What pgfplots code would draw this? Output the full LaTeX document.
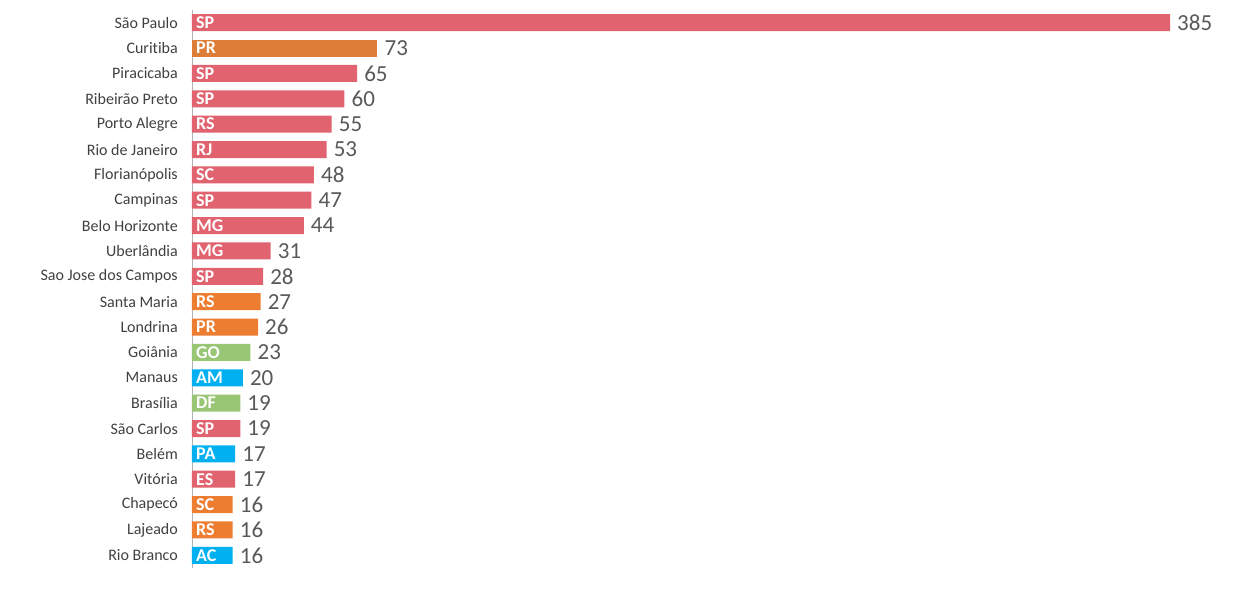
\documentclass[border=0pt]{standalone}
\usepackage{pgfplots}
\pgfplotsset{compat=1.18}
\usepackage{pgfplotstable}
\usepackage{fontspec}
\setmainfont{Carlito}[Ligatures=NoCommon]
\definecolor{cred}{HTML}{E0636F}
\definecolor{corgA}{HTML}{DD7D38}
\definecolor{corg}{HTML}{ED7D31}
\definecolor{cgreen}{HTML}{98C674}
\definecolor{cblue}{HTML}{00B0F0}
\definecolor{cval}{HTML}{595959}
\definecolor{ccat}{HTML}{404040}
\pgfplotstableread{
idx val st
0 385 SP
2 65 SP
3 60 SP
4 55 RS
5 53 RJ
6 48 SC
7 47 SP
8 44 MG
9 31 MG
10 28 SP
16 19 SP
18 17 ES
}\tred
\pgfplotstableread{
idx val st
1 73 PR
}\torgA
\pgfplotstableread{
idx val st
11 27 RS
12 26 PR
19 16 SC
20 16 RS
}\torg
\pgfplotstableread{
idx val st
13 23 GO
15 19 DF
}\tgreen
\pgfplotstableread{
idx val st
14 20 AM
17 17 PA
21 16 AC
}\tblue
\pgfplotsset{
  valbar/.style={xbar, bar width=17bp, bar shift=0pt, draw=none, fill=#1,
    nodes near coords,
    nodes near coords style={anchor=west, text=cval, inner sep=3bp, xshift=4bp,
      font=\fontsize{23bp}{26bp}\selectfont}},
  stlab/.style={draw=none, mark=none, nodes near coords, point meta=explicit symbolic,
    nodes near coords style={anchor=west, text=white, inner sep=0pt, xshift=4bp,
      font=\fontsize{18bp}{20bp}\selectfont\bfseries}},
}
\begin{document}
\begin{tikzpicture}
\useasboundingbox (-192bp,-31bp) rectangle (1044bp,568bp);
\begin{axis}[
  at={(0,0)}, anchor=south west,
  scale only axis, width=978bp, height=558bp,
  xmin=0, xmax=385,
  ymin=-0.5, ymax=21.5, y dir=reverse,
  hide x axis,
  axis y line*=left,
  y axis line style={-, draw=black!30, line width=0.8bp},
  ytick={0,...,21},
  yticklabels={São Paulo,Curitiba,Piracicaba,Ribeirão Preto,Porto Alegre,Rio de Janeiro,Florianópolis,Campinas,Belo Horizonte,Uberlândia,Sao Jose dos Campos,Santa Maria,Londrina,Goiânia,Manaus,Brasília,São Carlos,Belém,Vitória,Chapecó,Lajeado,Rio Branco},
  major tick length=0pt,
  yticklabel style={font=\fontsize{16bp}{18bp}\selectfont, text=ccat, inner sep=0pt, xshift=-14bp},
  /pgf/number format/assume math mode=true,
  clip=false,
]
\addplot[valbar=cred] table[x=val,y=idx] {\tred};
\addplot[valbar=corgA] table[x=val,y=idx] {\torgA};
\addplot[valbar=corg] table[x=val,y=idx] {\torg};
\addplot[valbar=cgreen] table[x=val,y=idx] {\tgreen};
\addplot[valbar=cblue] table[x=val,y=idx] {\tblue};
\addplot[stlab] table[x expr=0,y=idx,meta=st] {\tred};
\addplot[stlab] table[x expr=0,y=idx,meta=st] {\torgA};
\addplot[stlab] table[x expr=0,y=idx,meta=st] {\torg};
\addplot[stlab] table[x expr=0,y=idx,meta=st] {\tgreen};
\addplot[stlab] table[x expr=0,y=idx,meta=st] {\tblue};
\end{axis}
\end{tikzpicture}
\end{document}
